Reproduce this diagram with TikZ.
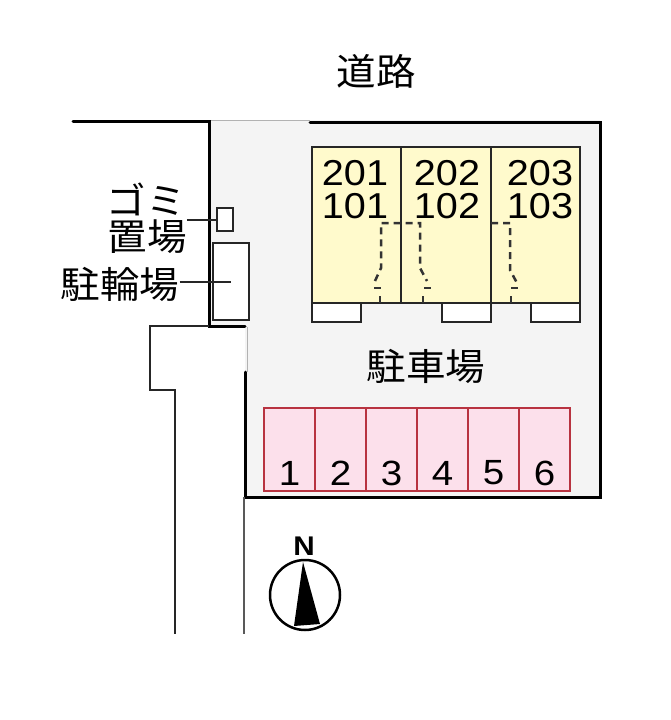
\documentclass[tikz,border=0pt]{standalone}
\usepackage{fontspec}
\setmainfont[FakeStretch=1.1]{Liberation Sans}
\newfontfamily\jpfont[FakeStretch=1.07]{Noto Sans CJK JP}
\usetikzlibrary{positioning}
\definecolor{lotgray}{rgb}{0.955, 0.955, 0.955}
\definecolor{unityellow}{rgb}{1.0, 0.98, 0.80}
\definecolor{stallpink}{rgb}{0.99, 0.88, 0.92}
\definecolor{stallred}{rgb}{0.72, 0.20, 0.25}
\tikzset{
	wall/.style={line width=3pt, line cap=round},
	thinwall/.style={line width=2.5pt, black!65},
	outline/.style={line width=2.5pt, black!85},
	jplabel/.style={inner sep=0pt, font=\jpfont\fontsize{37}{37}\selectfont},
	roomno/.style={inner sep=0pt, font=\fontsize{36}{36}\selectfont},
	stallno/.style={inner sep=0pt, font=\fontsize{35}{35}\selectfont},
	stairs/.style={line width=2.5pt, black!80, dash pattern=on 7pt off 5pt},
	leader/.style={line width=2pt, black!85}
}

\begin{document}
\begin{tikzpicture}[x=1pt, y=-1pt]
	\useasboundingbox (0,0) rectangle (670,720);
	% lot
	\fill [lotgray] (209,120)--(600,120)--(600,497)--(245,497)--(245,326)--(209,326)--cycle;
	\draw [black!30, line width=1pt] (209,120)--(310,120);
	\draw [black!30, line width=1pt] (247,327)--(247,372);
	\draw [wall] (73,121)--(209,121)--(209,326)--(245,326);
	\draw [wall] (310,122)--(600,122)--(600,497)--(245,497)--(245,372);
	% neighbouring outline
	\draw [outline] (209,326)--(150,326)--(150,390)--(175,390)--(175,634);
	\draw [thinwall] (244,497)--(244,634);
	% units
	\fill [unityellow] (312,147) rectangle (580,303);
	\foreach \i in {312,401,491}{
		\draw [outline] (\i,147)--(\i,303);
	}
	\draw [outline] (312,147)--(580,147)--(580,303)--(312,303)--cycle;
	\foreach \i in {312,442,531}{
		\draw [outline, fill=white] (\i,303) rectangle ++(49,19);
	}
	\foreach \i/\up/\low in {355/201/101,447/202/102,540/203/103}{
		\node [roomno] (room\up) at (\i,173) {\up};
		\node [roomno] (room\low) at (\i,206) {\low};
	}
	% stairs
	\draw [stairs] (375,281)--(381,268)--(381,223)--(420,223)--(420,268)--(427,281);
	\draw [stairs] (491,223)--(510,223)--(510,270)--(517,283);
	\foreach \i/\j in {374/380,424/423,511/511}{
		\draw [line width=2.5pt, black!80] (\i,288)--(\i+7,288);
		\draw [line width=2.5pt, black!80] (\j,296)--(\j,303);
	}
	% parking
	\foreach \i/\j in {1/264,2/315,3/366,4/417,5/468,6/519}{
		\draw [stallred, line width=2pt, fill=stallpink] (\j,408) rectangle ++(51,83);
		\node [stallno] (stall\i) at (\j+25.5,473) {\i};
	}
	\node [jplabel] (road) at (376,71) {道路};
	\node [jplabel] (lot) at (426,366) {駐車場};
	% bins and bicycles
	\node [draw, outline, fill=white, minimum width=16pt, minimum height=23pt, inner sep=0pt] (trash) at (225,219.5) {};
	\node [draw, outline, fill=white, minimum width=36pt, minimum height=77pt, inner sep=0pt] (bike) at (231,281.5) {};
	\node [jplabel] (gomi) at (146,199) {ゴミ};
	\node [jplabel] (okiba) at (147,237) {置場};
	\node [jplabel] (rinjo) at (120,284) {駐輪場};
	\draw [leader] (okiba.east |- trash.center)--(trash.west);
	\draw [leader] (rinjo.east |- bike.center)--(bike.center);
	% compass
	\node [inner sep=0pt, font=\bfseries\fontsize{27}{27}\selectfont] (north) at (304,546) {N};
	\node [draw, circle, line width=2.5pt, minimum size=70pt, inner sep=0pt] (dial) at (305,595) {};
	\fill (303,562)--(320,624)--(294,626)--cycle;
\end{tikzpicture}
\end{document}
